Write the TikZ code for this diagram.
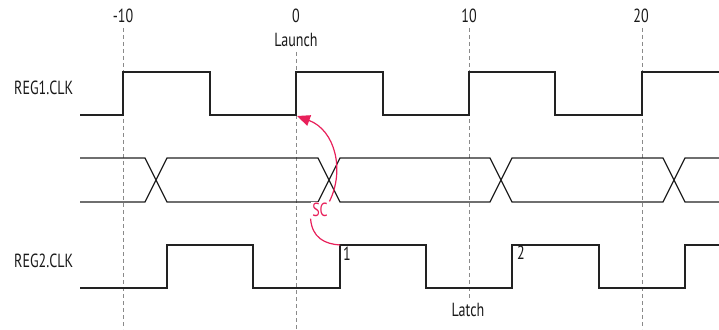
\documentclass[tikz,border=0pt]{standalone}
\usepackage{fontspec}
\setmainfont{PT Sans}[FakeStretch=0.74]
\usetikzlibrary{arrows.meta}
\definecolor{wavec}{HTML}{222222}
\definecolor{scc}{HTML}{E8205A}
\definecolor{gridc}{HTML}{8A8A8A}
\begin{document}
\begin{tikzpicture}[x=1pt,y=-1pt,
  wave/.style={draw=wavec, line width=1.3pt, line join=miter},
  gridline/.style={draw=gridc, dash pattern=on 4pt off 3pt, line width=0.8pt},
  lbl/.style={font=\fontsize{19}{21}\selectfont, text=black!90, inner sep=0pt},
  sclbl/.style={font=\fontsize{19}{21}\selectfont, text=scc, fill=white, inner sep=1.5pt},
  scline/.style={draw=scc, line width=1.2pt}]
\useasboundingbox (0,0) rectangle (719,329);
% grid
\draw[gridline] (123,28) -- (123,329);
\draw[gridline] (296,52) -- (296,329);
\draw[gridline] (469,28) -- (469,298);
\draw[gridline] (642,28) -- (642,329);
% tick labels
\node[lbl] (tm10) at (123,16) {-10};
\node[lbl] (t0) at (296,16) {0};
\node[lbl] (t10) at (469,16) {10};
\node[lbl] (t20) at (641,16) {20};
\node[lbl] (launch) at (296,40) {Launch};
\node[lbl] (latch) at (468,310) {Latch};
% signal names
\node[lbl, anchor=west] (reg1) at (14,88) {REG1.CLK};
\node[lbl, anchor=west] (reg2) at (14,261) {REG2.CLK};
% REG1 clock
\draw[wave] (80,115) -- (123,115) -- (123,72) -- (210,72) -- (210,115) -- (296,115) -- (296,72) -- (383,72) -- (383,115) -- (469,115) -- (469,72) -- (555,72) -- (555,115) -- (642,115) -- (642,72) -- (719,72);
\coordinate (launchedge) at (297,116);
% data
\draw[wave] (80,158) -- (145,158) -- (167,202) -- (318,202) -- (340,158) -- (490,158) -- (512,202) -- (663,202) -- (685,158) -- (719,158);
\draw[wave] (80,202) -- (145,202) -- (167,158) -- (318,158) -- (340,202) -- (490,202) -- (512,158) -- (663,158) -- (685,202) -- (719,202);
% REG2 clock
\draw[wave] (80,288) -- (167,288) -- (167,245) -- (253,245) -- (253,288) -- (340,288) -- (340,245) -- (426,245) -- (426,288) -- (512,288) -- (512,245) -- (599,245) -- (599,288) -- (685,288) -- (685,245) -- (719,245);
\coordinate (latchedge) at (340,245);
\node[lbl] (e1) at (347,254) {1};
\node[lbl] (e2) at (521,253) {2};
% setup check
\node[sclbl] (sc) at (320,210) {SC};
\draw[scline, -{Triangle[length=13pt,width=11pt]}] (sc.north east) .. controls (345,170) and (335,130) .. (launchedge);
\draw[scline] (sc.south west) .. controls (312,238) and (325,244) .. (latchedge);
\end{tikzpicture}
\end{document}
